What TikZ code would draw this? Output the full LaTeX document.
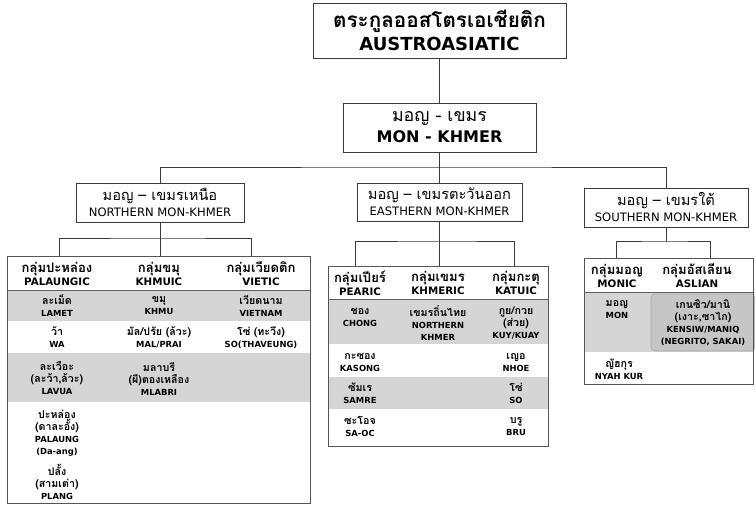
\documentclass[tikz,border=0pt]{standalone}
\usepackage{fontspec}
\setmainfont{DejaVu Sans}
\newfontfamily\thai[Script=Thai,Scale=1.27]{Loma}
\newcommand\tha[1]{{\thai #1}}
\definecolor{band}{HTML}{D5D5D5}
\definecolor{aslian}{HTML}{C6C6C6}
\definecolor{aslianline}{HTML}{A8A8A8}
\definecolor{ln}{HTML}{3A3A3A}
\definecolor{tb}{HTML}{555555}
\begin{document}
\begin{tikzpicture}[x=1pt,y=-1pt,
  box/.style={draw=ln, line width=0.9pt, fill=white, inner sep=0pt, align=center},
  tbl/.style={draw=tb, line width=1pt, inner sep=0pt},
  hdline/.style={draw=ln!80, line width=1pt},
  conn/.style={draw=ln, line width=0.8pt},
  hd/.style={align=center, inner sep=0pt, font=\fontsize{10.3}{13}\selectfont\bfseries},
  bd/.style={align=center, inner sep=0pt, font=\fontsize{8.4}{12}\selectfont\bfseries}]
\useasboundingbox (0,0) rectangle (755,504);

% ---------- upper boxes ----------
\node[box, minimum width=253pt, minimum height=55pt, font=\fontsize{18}{23}\selectfont] (aa) at (439.5,30.5)
  {{\thai\bfseries\fontsize{16.3}{23}\selectfont ตระกูลออสโตรเอเชียติก}\\\bfseries AUSTROASIATIC};
\node[box, minimum width=193pt, minimum height=49pt, font=\fontsize{16}{21}\selectfont] (mk) at (439.5,127.5)
  {{\thai\fontsize{14}{21}\selectfont มอญ - เขมร}\\\bfseries MON - KHMER};
\node[box, minimum width=168pt, minimum height=39pt, font=\fontsize{11.6}{16}\selectfont] (nm) at (160,202.5)
  {{\thai\fontsize{11.5}{16}\selectfont มอญ – เขมรเหนือ}\\NORTHERN MON-KHMER};
\node[box, minimum width=165pt, minimum height=38pt, font=\fontsize{11.6}{16}\selectfont] (em) at (439.5,202)
  {{\thai\fontsize{11.5}{16}\selectfont มอญ – เขมรตะวันออก}\\EASTHERN MON-KHMER};
\node[box, minimum width=164pt, minimum height=39pt, font=\fontsize{11.6}{16}\selectfont] (sm) at (666,207.5)
  {{\thai\fontsize{11.5}{16}\selectfont มอญ – เขมรใต้}\\SOUTHERN MON-KHMER};

% ---------- upper connectors ----------
\coordinate (bus) at (439.5,167);
\draw[conn] (aa.south) -- (mk.north);
\draw[conn] (mk.south) -- (bus);
\draw[conn] (nm.north) |- (bus) -| (sm.north);
\draw[conn] (bus) -- (em.north);

% ---------- left table ----------
\fill[band] (7,290) rectangle (310,321);
\fill[band] (7,353) rectangle (310,402);
\node[tbl, minimum width=303pt, minimum height=247pt] (tL) at (158.5,379.5) {};
\draw[hdline] (7,290) -- (310,290);
\coordinate (cL1) at (59,256);
\coordinate (cL2) at (160,256);
\coordinate (cL3) at (251,256);
\coordinate (bL) at (160,238);
\draw[conn] (nm.south) -- (bL);
\draw[conn] (cL1) |- (bL) -| (cL3);
\draw[conn] (cL2) -- (bL);

\node[hd] (hL1) at (57,273.5) {\tha{กลุ่มปะหล่อง}\\PALAUNGIC};
\node[hd] (hL2) at (159,273.5) {\tha{กลุ่มขมุ}\\KHMUIC};
\node[hd] (hL3) at (261,273.5) {\tha{กลุ่มเวียดติก}\\VIETIC};
\node[bd] (l11) at (57,306) {\tha{ละเม็ด}\\LAMET};
\node[bd] (l12) at (159,306) {\tha{ขมุ}\\KHMU};
\node[bd] (l13) at (261,306) {\tha{เวียดนาม}\\VIETNAM};
\node[bd] (l21) at (57,337.5) {\tha{ว้า}\\WA};
\node[bd] (l22) at (159,337.5) {\tha{มัล/ปรัย (ล้วะ)}\\MAL/PRAI};
\node[bd] (l23) at (261,337.5) {\tha{โซ่ (ทะวึง)}\\SO(THAVEUNG)};
\node[bd] (l31) at (57,378.5) {\tha{ละเวือะ}\\\tha{(ละว้า,ล้วะ)}\\LAVUA};
\node[bd] (l32) at (159,378.5) {\tha{มลาบรี}\\\tha{(ผี)ตองเหลือง}\\MLABRI};
\node[bd] (l41) at (57,433) {\tha{ปะหล่อง}\\\tha{(ดาละอั้ง)}\\PALAUNG\\(Da-ang)};
\node[bd] (l42) at (57,481.5) {\tha{ปลั้ง}\\\tha{(สามเต่า)}\\PLANG};

% ---------- middle table ----------
\fill[band] (328,299) rectangle (548,344);
\fill[band] (328,377) rectangle (548,409);
\node[tbl, minimum width=220pt, minimum height=180pt] (tM) at (438,356) {};
\draw[hdline] (328,299) -- (548,299);
\coordinate (cM1) at (355,266);
\coordinate (cM2) at (439.5,266);
\coordinate (cM3) at (514,266);
\coordinate (bM) at (439.5,241);
\draw[conn] (em.south) -- (bM);
\draw[conn] (cM1) |- (bM) -| (cM3);
\draw[conn] (cM2) -- (bM);

\node[hd] (hM1) at (360,283) {\tha{กลุ่มเปียร์}\\PEARIC};
\node[hd] (hM2) at (438,283) {\tha{กลุ่มเขมร}\\KHMERIC};
\node[hd] (hM3) at (516,283) {\tha{กลุ่มกะตุ}\\KATUIC};
\node[bd] (m11) at (360,317) {\tha{ชอง}\\CHONG};
\node[bd] (m12) at (438,323) {\tha{เขมรถิ่นไทย}\\NORTHERN\\KHMER};
\node[bd] (m13) at (516,323) {\tha{กูย/กวย}\\\tha{(ส่วย)}\\KUY/KUAY};
\node[bd] (m21) at (360,362.5) {\tha{กะซอง}\\KASONG};
\node[bd] (m23) at (516,362.5) {\tha{เญอ}\\NHOE};
\node[bd] (m31) at (360,393) {\tha{ซัมเร}\\SAMRE};
\node[bd] (m33) at (516,393) {\tha{โซ่}\\SO};
\node[bd] (m41) at (360,426.5) {\tha{ซะโอจ}\\SA-OC};
\node[bd] (m43) at (516,426.5) {\tha{บรู}\\BRU};

% ---------- right table ----------
\fill[band] (584,292) rectangle (753,352);
\node[bd, draw=aslianline, fill=aslian, rounded corners=4pt, line width=0.6pt,
      minimum width=104pt, minimum height=57pt] (r12) at (703,322.5)
  {\tha{เกนซิว/มานิ}\\\tha{(เงาะ,ซาไก)}\\KENSIW/MANIQ\\(NEGRITO, SAKAI)};
\node[tbl, minimum width=169pt, minimum height=126pt] (tR) at (668.5,321) {};
\draw[hdline] (584,292) -- (753,292);
\coordinate (cR1) at (616,258);
\coordinate (cR2) at (710,258);
\coordinate (bR) at (666,241);
\draw[conn] (sm.south) -- (bR);
\draw[conn] (cR1) |- (bR) -| (cR2);

\node[hd] (hR1) at (617,275.5) {\tha{กลุ่มมอญ}\\MONIC};
\node[hd] (hR2) at (697,275.5) {\tha{กลุ่มอัสเลียน}\\ASLIAN};
\node[bd] (r11) at (617,310) {\tha{มอญ}\\MON};
\node[bd] (r21) at (619,369.5) {\tha{ญัฮกุร}\\NYAH KUR};
\end{tikzpicture}
\end{document}
